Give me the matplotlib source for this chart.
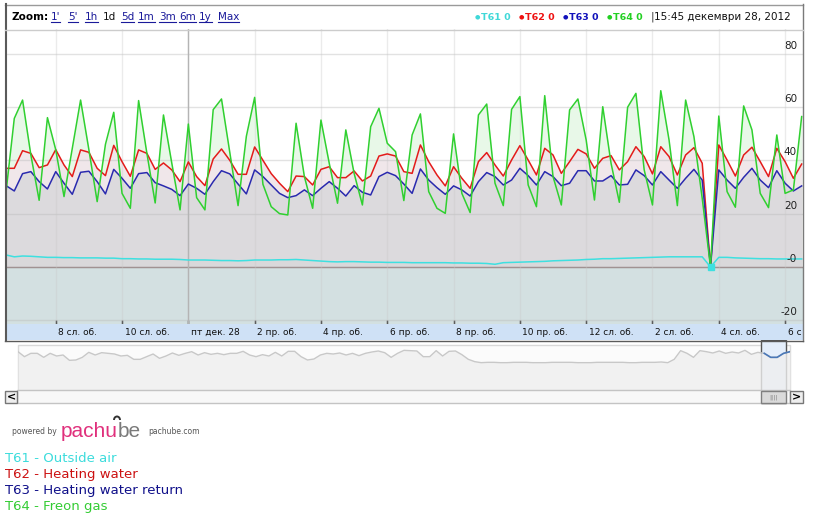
# coding=utf-8
import numpy as np
import matplotlib
matplotlib.use('Agg')
import matplotlib.pyplot as plt
import matplotlib.patches as mpatches
import matplotlib.transforms as mtrans
from matplotlib.lines import Line2D

plt.rcParams['font.family'] = ['DejaVu Sans']

W, H = 824, 521

# one reading every 15 min, first one 27 Dec 18:30 (hours since 27 Dec 00:00)
t_first = 18.5
t_step = 0.25

t61 = [4.5, 3.8, 4.1, 4.0, 3.8, 3.6, 3.6, 3.5, 3.5, 3.4, 3.4, 3.4, 3.3, 3.3, 3.1, 3.1, 3.0,
       3.0, 2.9, 2.9, 2.9, 2.8, 2.6, 2.6, 2.6, 2.5, 2.4, 2.4, 2.3, 2.4, 2.6, 2.6, 2.6, 2.7,
       2.7, 2.8, 2.6, 2.4, 2.2, 2.0, 1.9, 2.0, 2.0, 1.9, 1.8, 1.8, 1.7, 1.7, 1.7, 1.6, 1.6,
       1.6, 1.6, 1.6, 1.5, 1.5, 1.4, 1.4, 1.3, 1.0, 1.6, 1.7, 1.8, 1.9, 2.0, 2.1,
       2.3, 2.4, 2.5, 2.6, 2.8, 2.9, 3.1, 3.1, 3.2, 3.3, 3.4, 3.5, 3.6, 3.7, 3.8, 3.8, 3.8,
       3.8, 3.8, 0.0, 3.6, 3.6, 3.4, 3.3, 3.2, 3.1, 3.1, 3.0, 3.0, 3.0, 3.0]
t62 = [37, 37, 43.6, 42.6, 37.25, 38.25, 44, 38.25, 33.9, 43.9, 43, 37, 34.25, 45.6, 39.5,
       34, 43.9, 42.6, 36.6, 39, 36.4, 32, 39.4, 33.9, 30.5, 40.5, 44.25, 40, 34.75, 34.75,
       45, 40, 35, 31.4,
       28.25, 34.1, 33.9, 30.75, 36.6, 37.6, 33.5, 33.5, 36, 32.25, 34.1, 41.6, 42.4, 41.6,
       35.75, 35.1, 45.75, 39.5, 34.5, 30.4, 37.6, 33.25, 29.5, 39.5, 42.9, 38.25, 34.1,
       40.1, 45.5, 40.1, 34.5, 44.5,
       42, 35.1, 39.5, 44.1, 42.4, 37, 40.75, 41.75, 36.4, 39.5, 45.1, 41.4, 34.9, 45.1,
       41.4, 34.5, 42, 44.75, 38.9, 0, 45.75, 40.1, 34.1, 42, 44.9, 39.5, 33.9, 44.5, 39.5,
       33.25, 38.6]
t63 = [30.5, 28.5, 35, 35.75, 32, 29.25, 35.75, 31.4, 27.25, 35.5, 35.9, 32, 27.4, 36.6,
       33.25, 29.5, 35, 35.4, 31.6, 30.4, 29.1, 26.75, 31.1, 29.5, 27.25, 32, 36.1, 34.9,
       31.1, 27.4, 36.4, 33.9, 30.75, 27.6,
       26, 26.75, 28.9, 26.75, 29.5, 32, 29.5, 26.6, 30.5, 28, 27, 33.9, 35.5, 34.25, 31.1,
       27.6, 36.75, 32.6, 29.75, 27.25, 30.4, 28.9, 26.6, 32, 35.4, 33.9, 30.75, 32.6, 37,
       34.25, 30.75, 35.75,
       33.9, 30.5, 31.4, 36.1, 36.1, 32.25, 32.25, 34.25, 30.75, 31, 36.4, 34.25, 30.75,
       35.75, 32.6, 29.5, 33.25, 36.6, 32.6, 0, 36.4, 32.6, 29.5, 33.6, 37, 32.6, 29.75,
       36.1, 31.4, 28.5, 30.4]
t64 = [28, 55.7, 62.6, 42, 25, 56, 44, 26.4, 44.5, 62.6, 44, 24.5, 46, 58, 27.6, 22, 62.4,
       42.6, 24, 57, 39, 21.4, 53.6, 26, 21.4, 59, 63, 43, 23, 49, 63.6, 31, 22.6, 20,
       19.5, 53.9, 33.9, 22, 55.1, 38.9, 23.9, 51.4, 35.1, 23.25, 52.6, 59.5, 46.4, 43.25,
       24.9, 49.5, 57.4, 28.25, 22, 20.1, 49.9, 27.6, 20.4, 57, 61.1, 31.4, 23, 59.1, 63.9,
       30.75, 22.6, 64.25,
       33.9, 23.25, 58.9, 63, 47.6, 25.1, 60.1, 38.9, 24.25, 59.9, 65.1, 36.4, 23.25, 66.1,
       47.6, 23, 62.6, 48.9, 25.75, 0, 56.6, 28.25, 22.4, 60.4, 51.4, 27.6, 22.25, 49.5,
       27.6, 28.9, 56.4]
hover_idx = 85

names = ['T61', 'T62', 'T63', 'T64']
descr = ['Outside air', 'Heating water', 'Heating water return', 'Freon gas']

x_ticks = [20, 22, 24, 26, 28, 30, 32, 34, 36, 38, 40, 42]
# last label is cut by the chart edge in the original, only "6 с" shows
x_labels = ['8 сл. об.', '10 сл. об.', 'пт дек. 28', '2 пр. об.', '4 пр. об.', '6 пр. об.',
            '8 пр. об.', '10 пр. об.', '12 сл. об.', '2 сл. об.', '4 сл. об.', '6 с']
y_ticks = [-20, 0, 20, 40, 60, 80]
y_labels = ['-20', '-0', '20', '40', '60', '80']

# navigator: last 30 days, one point every 6 h
nav_step = 0.25
nav_vals = [45, 30, 40, 40, 28, 40, 32, 35, 19, 20, 28, 43, 35, 42, 40, 38, 32, 34, 22, 22,
            30, 38, 25, 32, 41, 34, 40, 45, 35, 42, 37, 40, 36, 40, 40, 46, 35, 30, 36, 32,
            43, 32, 46, 46, 30, 20, 23, 35, 40, 38, 41, 35, 40, 33, 40, 44, 47, 42, 28, 40,
            49, 48, 47, 30, 30, 48, 32, 46, 47, 36, 22, 15, 12,
            13, 13, 12, 12, 13, 13, 13, 12, 12, 12, 13, 13, 13, 13, 12, 12, 12, 13, 13, 13,
            13, 13, 12, 12, 13, 13, 13, 14,
            12, 22, 48, 40, 28, 48, 45, 41, 47, 40, 44, 41, 49, 37, 43, 40, 28, 28, 40, 45]
nav_sel = (28.9, 29.9)

zoom_links = ["1'", "5'", "1h", "1d", "5d", "1m", "3m", "6m", "1y", "Max"]
date_text = '15:45 декември 28, 2012'

line_cols = ['#3ee0e0', '#e41b1b', '#2a2aae', '#30d030']
fill_cols = ['#d9d8da', '#f0e7ea', '#dcdadd', '#e8f8e8']
text_cols = ['#3cdcdc', '#cc1111', '#10108a', '#33cc33']


def box(x0, y0, x1, y1):
    # pixel box (origin top-left) -> figure fraction rect
    return [x0 / W, 1 - y1 / H, (x1 - x0) / W, (y1 - y0) / H]


def fx(x):
    return x / W


def fy(y):
    return 1 - y / H


def fline(x0, y0, x1, y1, c, lw=1):
    fig.add_artist(Line2D([fx(x0), fx(x1)], [fy(y0), fy(y1)], color=c, lw=lw,
                          transform=fig.transFigure))


def frect(x0, y0, x1, y1, fc, ec='none', lw=1, z=1):
    fig.add_artist(mpatches.Rectangle((fx(x0), fy(y1)), (x1 - x0) / W, (y1 - y0) / H,
                                      facecolor=fc, edgecolor=ec, lw=lw, zorder=z,
                                      transform=fig.transFigure))


fig = plt.figure(figsize=(W / 100, H / 100), dpi=100)

# ---- main chart
series = [t61, t62, t63, t64]
hours = t_first + t_step * np.arange(len(t64))
ax = fig.add_axes(box(5, 29, 803, 324))
ax.set_xlim(18.47, 42.54)
ax.set_ylim(-21.4, 89.25)
ax.axhspan(-40, 0, color='#d3e0e1', lw=0, zorder=0)
for k in [3, 1, 2, 0]:
    ax.fill_between(hours, series[k], 0, color=fill_cols[k], lw=0, zorder=1)
for yv in y_ticks:
    ax.axhline(yv, color='#b8b8b8', alpha=0.4, lw=1, zorder=2)
ax.axhline(0, color='#a09292', lw=1, zorder=2)
for xv in x_ticks:
    ax.axvline(xv, color='#c8c8c8', alpha=0.35, lw=1, zorder=2)
ax.axvline(24, color='#b4b4b4', lw=1, zorder=2)
for k in range(4):
    ax.plot(hours, series[k], color=line_cols[k], lw=1.1, zorder=4)
ax.plot(hours[hover_idx], t61[hover_idx], 's', ms=4, color=line_cols[0], zorder=5)

ax.set_xticks(x_ticks)
ax.set_yticks([])
ax.tick_params(axis='x', direction='in', length=3, width=1, color='#222222',
               labelbottom=False)
for s in ax.spines.values():
    s.set_visible(False)

ylab_tr = mtrans.blended_transform_factory(ax.transAxes, ax.transData) + \
    mtrans.ScaledTranslation(-0.06, 0.08, fig.dpi_scale_trans)
for yv, lab in zip(y_ticks, y_labels):
    ax.text(1, yv, lab, transform=ylab_tr, ha='right', va='center', fontsize=7.5,
            color='#222222', zorder=6)

# ---- x axis band
bax = fig.add_axes(box(5, 324, 803, 340))
bax.set_facecolor('#cfe1f6')
bax.set_xlim(ax.get_xlim())
bax.set_ylim(0, 1)
bax.set_xticks([])
bax.set_yticks([])
for s in bax.spines.values():
    s.set_visible(False)
xlab_tr = mtrans.blended_transform_factory(bax.transData, bax.transAxes) + \
    mtrans.ScaledTranslation(0.025, 0, fig.dpi_scale_trans)
for xv, lab in zip(x_ticks, x_labels):
    bax.text(xv, 0.45, lab, transform=xlab_tr, ha='left', va='center', fontsize=6.5,
             color='#111111')

# ---- navigator
frect(18, 345, 790, 390, '#fbfbfb', '#d8d8d8', z=-3)
frect(760.5, 340, 786, 403, '#e4eefb', '#555555', z=-2)
nax = fig.add_axes(box(18, 345, 790, 390))
nax.set_facecolor('none')
nav_t = nav_step * np.arange(len(nav_vals))
nax.set_xlim(0, nav_step * (len(nav_vals) - 1))
nax.set_ylim(-70, 65)
nax.fill_between(nav_t, nav_vals, -70, color='#efefef', alpha=0.8, lw=0)
nax.plot(nav_t, nav_vals, color='#c8c8c8', lw=1)
sel = (nav_t >= nav_sel[0]) & (nav_t <= nav_sel[1] + 0.2)
nax.plot(nav_t[sel], np.array(nav_vals)[sel], color='#4a78b8', lw=1.2)
nax.set_xticks([])
nax.set_yticks([])
for s in nax.spines.values():
    s.set_visible(False)

# scrollbar
frect(17, 390, 790, 403, '#f8f8f8', '#c4c4c4')
frect(760.5, 390.5, 786, 403, '#dadada', '#808080', z=2)
fig.text(fx(773), fy(397), '||||', fontsize=4.5, color='#8a8a8a', ha='center', va='center')
frect(5, 390.5, 17, 403, '#eeeeee', '#777777', z=2)
frect(790, 390.5, 803, 403, '#eeeeee', '#777777', z=2)
fig.text(fx(11), fy(397), '<', fontsize=8, fontweight='bold', ha='center', va='center')
fig.text(fx(796.5), fy(397), '>', fontsize=8, fontweight='bold', ha='center', va='center')

# ---- frame and header
fline(5, 4.5, 803, 4.5, '#9a9a9a')
fline(5.5, 4, 5.5, 341, '#5a5a5a', 1.5)
fline(802.5, 4, 802.5, 341, '#7a7a7a')
fline(5, 340.5, 803, 340.5, '#5a5a5a')
fline(5, 29.5, 803, 29.5, '#cccccc')

renderer = fig.canvas.get_renderer()
fig.text(fx(12), fy(17), 'Zoom:', fontsize=7.5, fontweight='bold', va='center')
link_x = [51, 68, 85, 103, 121, 138, 159, 179, 199, 218]
for lab, xp in zip(zoom_links, link_x):
    if lab == '1d':
        fig.text(fx(xp), fy(17), lab, fontsize=7.5, color='#111111', va='center')
        continue
    t = fig.text(fx(xp), fy(17), lab, fontsize=7.5, color='#1a1a9a', va='center')
    bb = t.get_window_extent(renderer)
    fline(xp, 22, xp + bb.width, 22, '#1a1a9a', 0.8)

hdr_cols = ['#40d8d8', '#ee1111', '#1111bb', '#22d022']
hdr_x = [475, 519, 563, 607]
for k in range(4):
    fig.text(fx(hdr_x[k]), fy(17), '\u25cf', fontsize=4.5, color=hdr_cols[k], va='center')
    fig.text(fx(hdr_x[k] + 6), fy(17), names[k] + ' 0', fontsize=6.8, fontweight='bold',
             color=hdr_cols[k], va='center')
fig.text(fx(651), fy(17), '|', fontsize=8, color='#333333', va='center')
fig.text(fx(791), fy(17), date_text, fontsize=7.5, color='#111111', va='center', ha='right')

# ---- logo
fig.text(fx(12), fy(432), 'powered by', fontsize=5.5, color='#555555', va='center')
t = fig.text(fx(61), fy(437), 'pachu', fontsize=15, color='#e0307c', va='baseline',
             family='Liberation Sans')
bb = t.get_window_extent(renderer)
fig.text(fx(61) + bb.width / W, fy(437), 'be', fontsize=15, color='#7a7a7a', va='baseline',
         family='Liberation Sans')
fig.add_artist(mpatches.Arc((fx(61) + (bb.width - 1) / W, fy(420)), 6 / W, 7 / H,
                            theta1=0, theta2=180, color='#333333', lw=1.4,
                            transform=fig.transFigure))
fig.text(fx(148), fy(432), 'pachube.com', fontsize=5.5, color='#555555', va='center')

# ---- legend text
for k in range(4):
    fig.text(fx(5), fy(462 + 16 * k), names[k] + ' - ' + descr[k], fontsize=9.5,
             color=text_cols[k], va='baseline')

fig.savefig('out.png', dpi=100, facecolor='white')
